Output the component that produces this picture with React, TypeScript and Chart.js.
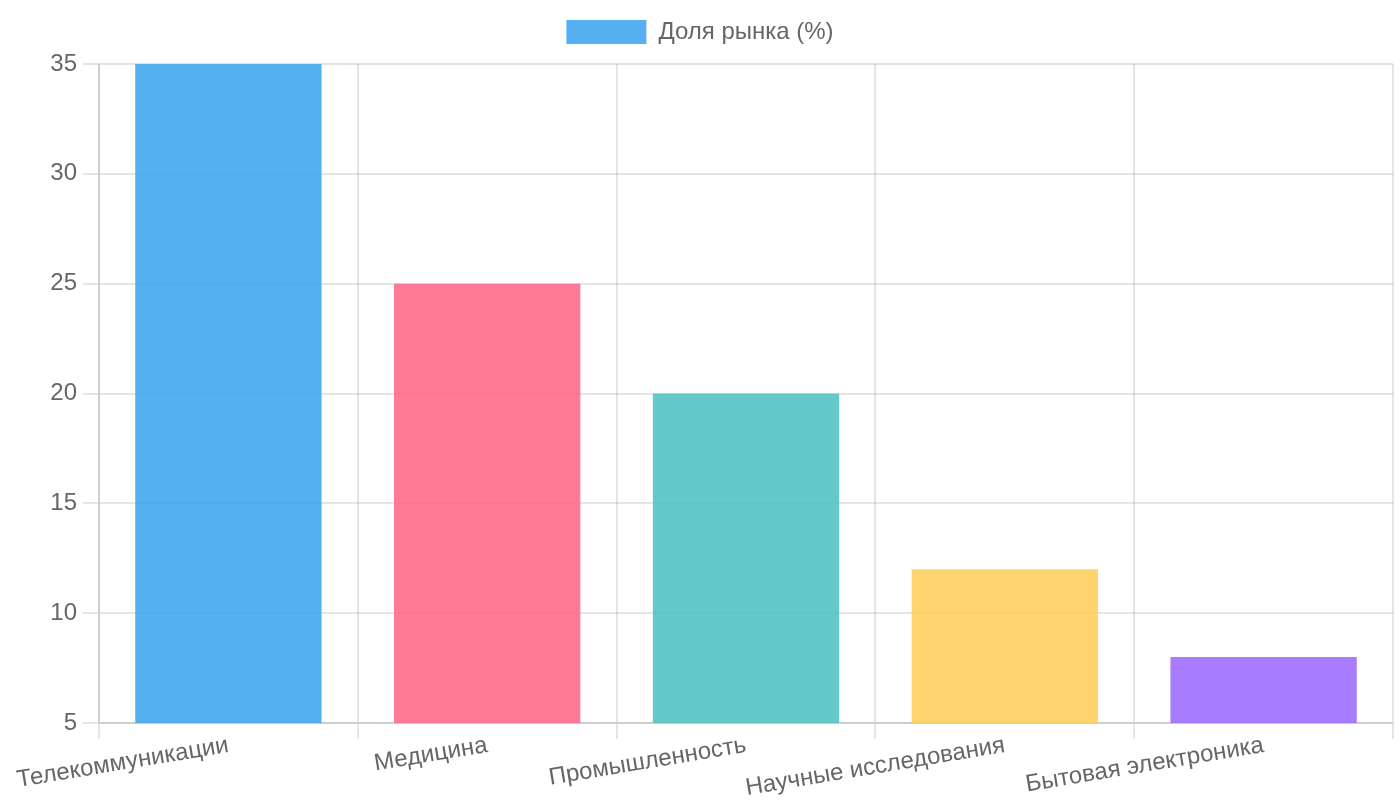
import React, { useEffect, useRef } from "react";
import { Chart, registerables } from "chart.js";

Chart.register(...registerables);

const categories = [
  "Телекоммуникации",
  "Медицина",
  "Промышленность",
  "Научные исследования",
  "Бытовая электроника",
];
const seriesLabel = "Доля рынка (%)";
const shareValues = [35, 25, 20, 12, 8];
const barColors = [
  "rgba(54, 162, 235, 0.85)",
  "rgba(255, 99, 132, 0.85)",
  "rgba(75, 192, 192, 0.85)",
  "rgba(255, 205, 86, 0.85)",
  "rgba(153, 102, 255, 0.85)",
];
const yMin = 5;
const yMax = 35;
const yStep = 5;

// chart is laid out at 700x408 logical px and drawn at pixel ratio 2 (1400x816 on screen)
const LOGICAL_W = 700;
const LOGICAL_H = 408;
const RATIO = 2;
const LABEL_ROTATION = 9.5;
const Y_AXIS_WIDTH = 46;
const X_AXIS_HEIGHT = 46.5;

export default function App() {
  const ref = useRef<HTMLCanvasElement | null>(null);

  useEffect(() => {
    if (!ref.current) return;
    const font = { family: "Arial, 'Liberation Sans', Helvetica, sans-serif", size: 12 };
    const chart = new Chart(ref.current, {
      type: "bar",
      data: {
        labels: categories,
        datasets: [
          {
            label: seriesLabel,
            data: shareValues,
            backgroundColor: barColors,
            borderWidth: 0,
          },
        ],
      },
      options: {
        animation: false,
        responsive: false,
        devicePixelRatio: RATIO,
        layout: { padding: { left: 3.5, right: 3.5 } },
        plugins: {
          legend: {
            position: "top",
            labels: { font, color: "#666" },
          },
          tooltip: { enabled: false },
        },
        scales: {
          x: {
            grid: { color: "rgba(0,0,0,0.1)" },
            ticks: {
              font,
              color: "#666",
              padding: -4,
              minRotation: LABEL_ROTATION,
              maxRotation: LABEL_ROTATION,
            },
            afterFit: (scale: any) => {
              scale.height = X_AXIS_HEIGHT;
            },
          },
          y: {
            min: yMin,
            max: yMax,
            grid: { color: "rgba(0,0,0,0.1)" },
            ticks: { font, color: "#666", stepSize: yStep },
            afterFit: (scale: any) => {
              scale.width = Y_AXIS_WIDTH;
            },
          },
        },
      },
    });
    return () => chart.destroy();
  }, []);

  return (
    <div
      style={{
        position: "absolute",
        left: 0,
        top: 0,
        width: 1400,
        height: 800,
        overflow: "hidden",
        background: "#fff",
      }}
    >
      <canvas
        ref={ref}
        width={LOGICAL_W}
        height={LOGICAL_H}
        style={{ width: LOGICAL_W * RATIO, height: LOGICAL_H * RATIO, display: "block" }}
      />
    </div>
  );
}
